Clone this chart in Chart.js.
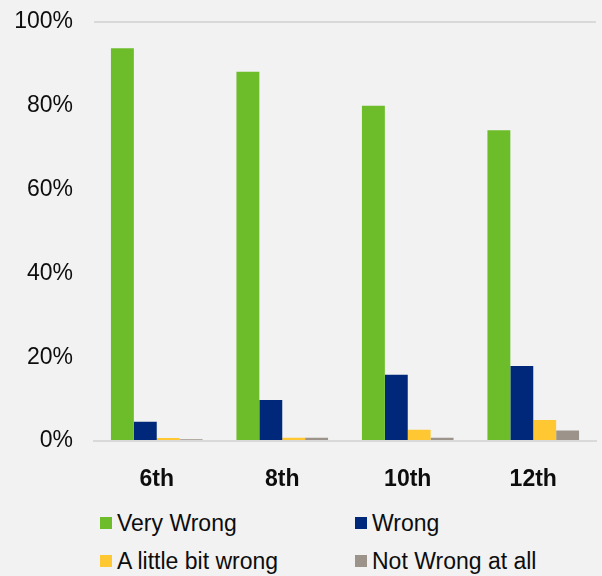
<!DOCTYPE html>
<html>
<head>
<meta charset="utf-8">
<script src="https://cdn.jsdelivr.net/npm/chart.js@4/dist/chart.umd.min.js"></script>
<style>
  body { margin: 0; background: #f2f2f2; font-family: "Liberation Sans", Arial, sans-serif; overflow: hidden; }
  #wrap { position: relative; width: 602px; height: 576px; overflow: hidden; }
  #box { position: absolute; left: 0; top: -13px; width: 602px; height: 509px; }
  .lg { position: absolute; display: flex; align-items: center; font-size: 23px; color: #0d0d0d; white-space: nowrap; }
  .lg span.sw { width: 12px; height: 12px; margin-right: 5px; display: inline-block; }
</style>
</head>
<body>
<div id="wrap">
  <div id="box"><canvas id="chart"></canvas></div>
  <div id="legend"></div>
</div>
<script>
// ============================
const grades = ["6th", "8th", "10th", "12th"];
const seriesNames = ["Very Wrong", "Wrong", "A little bit wrong", "Not Wrong at all"];
const veryWrong = [93.7, 88.1, 80.0, 74.1];
const wrong = [4.6, 9.8, 15.8, 17.9];
const littleWrong = [0.7, 0.8, 2.7, 5.0];
const notWrong = [0.4, 0.8, 0.8, 2.5];
const yTicks = [0, 20, 40, 60, 80, 100];
const colors = ["#6cbd29", "#00287a", "#ffc832", "#9c948b"];

const seriesValues = [veryWrong, wrong, littleWrong, notWrong];

// ============================
const chart = new Chart(document.getElementById("chart"), {
  type: "bar",
  data: {
    labels: grades,
    datasets: seriesNames.map((name, i) => ({
      label: name,
      data: seriesValues[i],
      backgroundColor: colors[i],
      borderWidth: 0,
      categoryPercentage: 0.73,
      barPercentage: 1
    }))
  },
  options: {
    responsive: true,
    maintainAspectRatio: false,
    animation: false,
    layout: { padding: { top: 0, right: 6, left: 0, bottom: 0 } },
    plugins: {
      legend: { display: false },
      tooltip: { enabled: false }
    },
    scales: {
      x: {
        grid: { display: false },
        border: { display: true, color: "#d9d9d9", width: 2 },
        ticks: {
          color: "#0d0d0d",
          padding: 17,
          font: { family: "'Liberation Sans', Arial, sans-serif", size: 23, weight: "bold" }
        },
        afterFit: s => { s.height = 55; }
      },
      y: {
        min: 0,
        max: 100,
        afterBuildTicks: s => { s.ticks = yTicks.map(v => ({ value: v })); },
        grid: {
          drawTicks: false,
          color: ctx => (ctx.tick && ctx.tick.value === 100) ? "#d9d9d9" : "rgba(0,0,0,0)",
          lineWidth: 2
        },
        border: { display: false },
        ticks: {
          color: "#0d0d0d",
          padding: 21,
          callback: v => v + "%",
          font: { family: "'Liberation Sans', Arial, sans-serif", size: 23 }
        },
        afterFit: s => { s.width = 94; }
      }
    }
  }
});

// ============================
// legend in two columns, built from the series arrays
const legendPos = [[100, 523], [355, 523], [100, 561], [355, 561]];
const legend = document.getElementById("legend");
seriesNames.forEach((name, i) => {
  const el = document.createElement("div");
  el.className = "lg";
  el.style.left = legendPos[i][0] + "px";
  el.style.top = (legendPos[i][1] - 14) + "px";
  el.style.height = "28px";
  el.innerHTML = `<span class="sw" style="background:${colors[i]}"></span>${name}`;
  legend.appendChild(el);
});
</script>
</body>
</html>
